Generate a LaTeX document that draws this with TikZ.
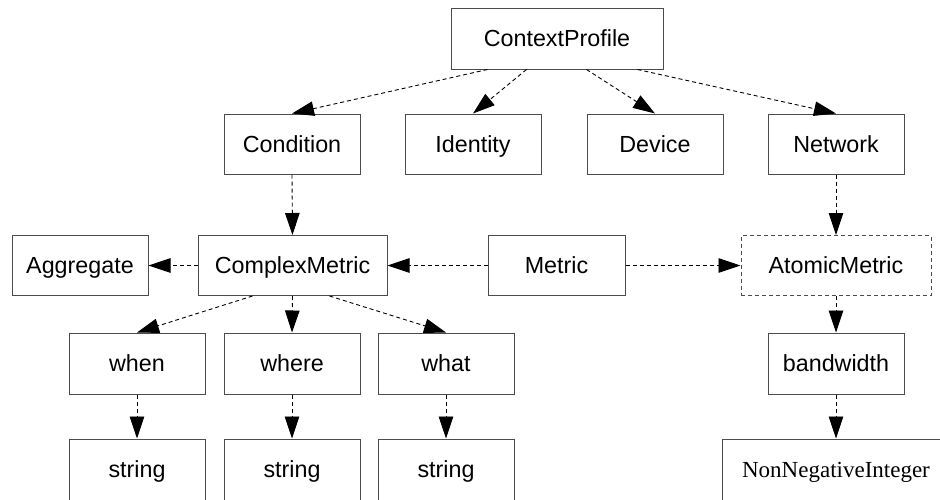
\documentclass[tikz,border=0pt]{standalone}
\usepackage{fontspec}
\setmainfont{Liberation Sans}
\newfontfamily\serifface{Liberation Serif}
\usetikzlibrary{arrows.meta,calc}
\tikzset{
  box/.style={draw=black!70, line width=1pt, rectangle, inner sep=0pt, minimum height=60pt,
    minimum width=136pt, font=\fontsize{23.3}{27}\selectfont, text=black,
    text height=16.7pt, text depth=0pt},
  dbox/.style={box, dashed, dash pattern=on 4pt off 3pt},
  rel/.style={draw=black, line width=0.9pt, dash pattern=on 4pt off 3pt,
    -{Triangle[length=22pt,width=14.5pt]}},
}
\begin{document}
\begin{tikzpicture}[x=1pt,y=-1pt]
\useasboundingbox (0,0) rectangle (940,499);
\clip (0,0) rectangle (940,499);
\fill[white] (0,0) rectangle (940,499);
% row 1
\node[box, minimum width=212pt, minimum height=61pt] (cp) at (557,38.5) {ContextProfile};
% row 2
\node[box] (cond) at (292,144) {Condition};
\node[box] (ident) at (473,144) {Identity};
\node[box] (dev) at (655,144) {Device};
\node[box] (net) at (836,144) {Network};
% row 3
\node[box] (agg) at (80,265.5) {Aggregate};
\node[box, minimum width=189pt] (cm) at (292.5,265.5) {ComplexMetric};
\node[box, minimum width=137pt] (met) at (556.5,265.5) {Metric};
\node[dbox, minimum width=190pt] (am) at (836,265.5) {AtomicMetric};
% row 4
\node[box, minimum height=61pt] (when) at (137,363.5) {when};
\node[box, minimum height=61pt] (where) at (292,363.5) {where};
\node[box, minimum height=61pt] (what) at (446,363.5) {what};
\node[box, minimum height=61pt] (bw) at (836,363.5) {bandwidth};
% row 5
\node[box, minimum height=61pt] (s1) at (137,469.5) {string};
\node[box, minimum height=61pt] (s2) at (292,469.5) {string};
\node[box, minimum height=61pt] (s3) at (446,469.5) {string};
\node[box, minimum height=61pt, minimum width=228pt, font=\serifface\fontsize{23}{27}\selectfont] (nni) at (836,469.5) {NonNegativeInteger};
% connectors
\draw[rel] ($(cp.south west)+(37,0)$) -- (cond.north);
\draw[rel] ($(cp.south west)+(76,0)$) -- (ident.north);
\draw[rel] ($(cp.south west)+(136,0)$) -- (dev.north);
\draw[rel] ($(cp.south west)+(187,0)$) -- (net.north);
\draw[rel] (cond.south) -- (cm.north);
\draw[rel] (net.south) -- (am.north);
\draw[rel] (cm.west) -- (agg.east);
\draw[rel] (met.west) -- (cm.east);
\draw[rel] (met.east) -- (am.west);
\draw[rel] ($(cm.south west)+(55,0)$) -- (when.north);
\draw[rel] (cm.south) -- (where.north);
\draw[rel] ($(cm.south west)+(132,0)$) -- (what.north);
\draw[rel] (am.south) -- (bw.north);
\draw[rel] (when.south) -- (s1.north);
\draw[rel] (where.south) -- (s2.north);
\draw[rel] (what.south) -- (s3.north);
\draw[rel] (bw.south) -- (nni.north);
\end{tikzpicture}
\end{document}
